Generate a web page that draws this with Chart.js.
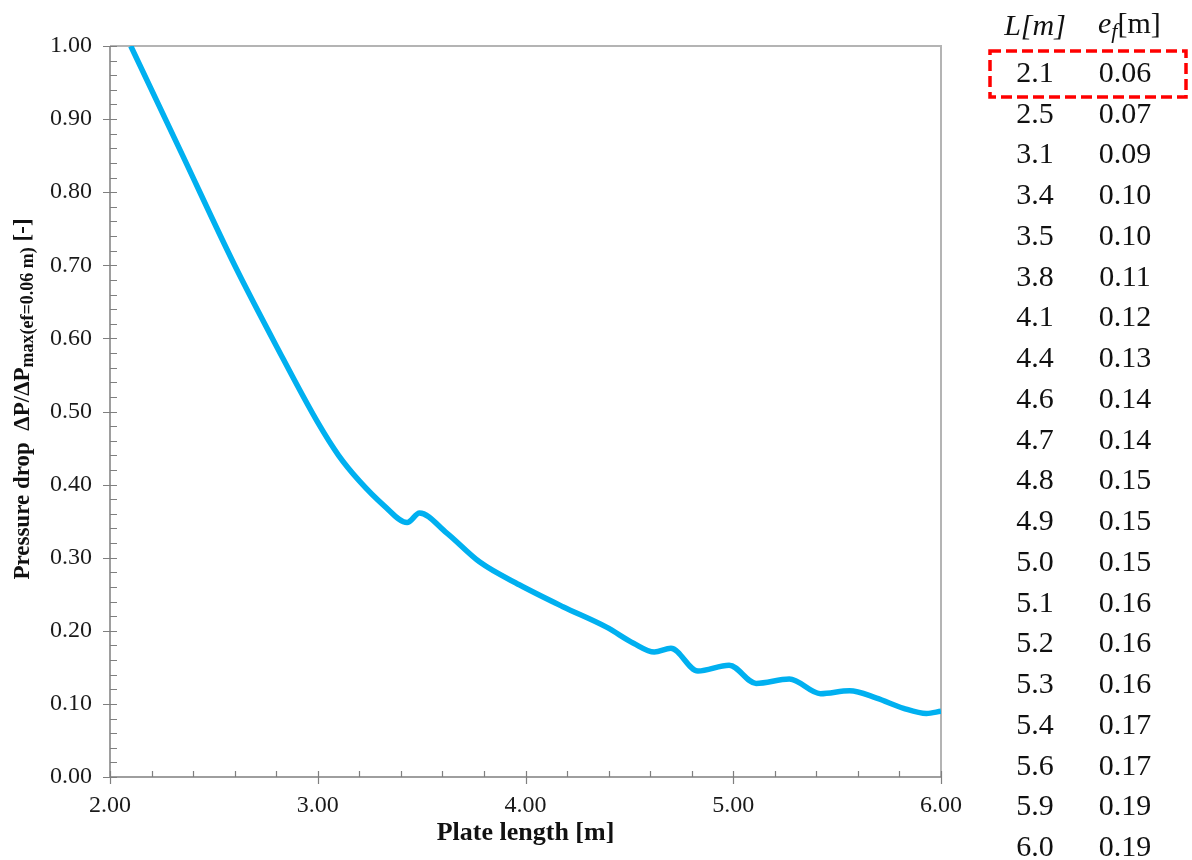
<!DOCTYPE html>
<html>
<head>
<meta charset="utf-8">
<script src="https://cdn.jsdelivr.net/npm/chart.js@4.4.1/dist/chart.umd.min.js"></script>
<style>
  html, body { margin: 0; padding: 0; background: #fff; }
  #wrap { position: relative; width: 1192px; height: 860px; overflow: hidden; font-family: "Liberation Serif", "DejaVu Serif", serif; }
  #chartBox { position: absolute; left: 0; top: 0; width: 1192px; height: 860px; }
  #ytitle { position: absolute; left: 23px; top: 399px; transform: translate(-50%, -50%) rotate(-90deg);
            white-space: nowrap; font-weight: bold; font-size: 23px; color: #111; line-height: 1; }
  #ytitle sub { font-size: 18px; vertical-align: -4px; }
  .cell { position: absolute; font-size: 30px; color: #111; transform: translate(-50%, -50%); white-space: nowrap; line-height: 1; }
  #hdrL { font-style: italic; }
  #hdrE { transform: translate(0, -50%); }
  #hdrE i sub { font-size: 22px; vertical-align: -5px; }
  #box { position: absolute; left: 0; top: 0; }
</style>
</head>
<body>
<div id="wrap">
  <div id="chartBox"><canvas id="c"></canvas></div>
  <div id="ytitle">Pressure drop&nbsp;&nbsp;ΔP/ΔP<sub>max(ef=0.06 m)</sub> [-]</div>
  <svg id="box" width="1192" height="860"><rect x="990" y="51" width="196" height="46" fill="none" stroke="#ff0000" stroke-width="3.5" stroke-dasharray="11 5"/></svg>
  <div id="table"></div>
</div>
<script>
// ---- data ----
const plateLength  = [2.10, 2.35, 2.60, 2.80, 3.00, 3.10, 3.20, 3.32, 3.43, 3.49, 3.62, 3.78, 3.97, 4.18, 4.39, 4.52, 4.62, 4.70, 4.83, 4.98, 5.11, 5.27, 5.42, 5.56, 5.69, 5.82, 5.93, 6.00];
const pressureDrop = [1.000, 0.850, 0.700, 0.590, 0.485, 0.440, 0.405, 0.371, 0.348, 0.361, 0.334, 0.294, 0.263, 0.233, 0.205, 0.183, 0.171, 0.176, 0.145, 0.153, 0.128, 0.134, 0.114, 0.118, 0.108, 0.094, 0.087, 0.090];
const tableL  = ['2.1','2.5','3.1','3.4','3.5','3.8','4.1','4.4','4.6','4.7','4.8','4.9','5.0','5.1','5.2','5.3','5.4','5.6','5.9','6.0'];
const tableEf = ['0.06','0.07','0.09','0.10','0.10','0.11','0.12','0.13','0.14','0.14','0.15','0.15','0.15','0.16','0.16','0.16','0.17','0.17','0.19','0.19'];
const xTitle = 'Plate length [m]';
const xMin = 2, xMax = 6, xStep = 1, xMinorStep = 0.2;
const yMin = 0, yMax = 1, yStep = 0.1, yMinorStep = 0.02;

// ---- table (HTML text) ----
(function buildTable() {
  const t = document.getElementById('table');
  const colL = 1035, colE = 1125, row0 = 72, rowH = 40.74;
  let h = '<div class="cell" id="hdrL" style="left:' + colL + 'px;top:25px">L[m]</div>';
  h += '<div class="cell" id="hdrE" style="left:1098px;top:25px"><i>e<sub>f</sub></i>[m]</div>';
  tableL.forEach((v, i) => {
    const y = row0 + i * rowH;
    h += '<div class="cell" style="left:' + colL + 'px;top:' + y + 'px">' + v + '</div>';
    h += '<div class="cell" style="left:' + colE + 'px;top:' + y + 'px">' + tableEf[i] + '</div>';
  });
  t.innerHTML = h;
})();

// ---- axes / ticks plugin ----
const axesPlugin = {
  id: 'axesFrame',
  beforeDatasetsDraw(chart) {
    const ctx = chart.ctx, a = chart.chartArea;
    const xs = chart.scales.x, ys = chart.scales.y;
    ctx.save();
    ctx.strokeStyle = '#b4b4b4'; ctx.lineWidth = 2;
    ctx.beginPath();
    ctx.moveTo(a.left, a.top); ctx.lineTo(a.right, a.top); ctx.lineTo(a.right, a.bottom);
    ctx.stroke();
    ctx.strokeStyle = '#7f7f7f'; ctx.lineWidth = 1.5;
    ctx.beginPath();
    ctx.moveTo(a.left, a.top); ctx.lineTo(a.left, a.bottom); ctx.lineTo(a.right, a.bottom);
    ctx.stroke();
    ctx.lineWidth = 1.2;
    ctx.beginPath();
    const ny = Math.round((yMax - yMin) / yMinorStep);
    for (let i = 0; i <= ny; i++) {
      const v = yMin + i * yMinorStep;
      const p = Math.round(ys.getPixelForValue(v)) + 0.5;
      const major = i % Math.round(yStep / yMinorStep) === 0;
      ctx.moveTo(a.left - (major ? 7 : 0), p); ctx.lineTo(a.left + 7, p);
    }
    const nx = Math.round((xMax - xMin) / xMinorStep);
    for (let i = 0; i <= nx; i++) {
      const v = xMin + i * xMinorStep;
      const p = Math.round(xs.getPixelForValue(v)) + 0.5;
      const major = i % Math.round(xStep / xMinorStep) === 0;
      ctx.moveTo(p, a.bottom - 6); ctx.lineTo(p, a.bottom + (major ? 7 : 0));
    }
    ctx.stroke();
    ctx.restore();
  }
};

new Chart(document.getElementById('c'), {
  type: 'scatter',
  data: {
    datasets: [{
      data: plateLength.map((x, i) => ({ x: x, y: pressureDrop[i] })),
      showLine: true,
      borderColor: '#00b0f0',
      borderWidth: 5.5,
      pointRadius: 0,
      cubicInterpolationMode: 'monotone',
      fill: false
    }]
  },
  options: {
    responsive: true,
    maintainAspectRatio: false,
    animation: false,
    events: [],
    layout: { padding: { left: 0, right: 251, top: 46, bottom: 0 } },
    plugins: { legend: { display: false }, tooltip: { enabled: false } },
    scales: {
      x: {
        type: 'linear', min: xMin, max: xMax,
        grid: { display: false, drawTicks: false },
        border: { display: false },
        ticks: { stepSize: xStep, padding: 14, color: '#1a1a1a', font: { family: 'Liberation Serif', size: 24 },
                 callback: v => Number(v).toFixed(2), maxRotation: 0 },
        title: { display: true, text: xTitle, color: '#111', font: { family: 'Liberation Serif', size: 26, weight: 'bold' },
                 padding: { top: 0, bottom: 11 } },
        afterFit: s => { s.height = 83; }
      },
      y: {
        type: 'linear', min: yMin, max: yMax,
        grid: { display: false, drawTicks: false },
        border: { display: false },
        ticks: { stepSize: yStep, padding: 18, color: '#1a1a1a', font: { family: 'Liberation Serif', size: 24 },
                 callback: v => Number(v).toFixed(2) },
        afterFit: s => { s.width = 110; }
      }
    }
  },
  plugins: [axesPlugin]
});
</script>
</body>
</html>
